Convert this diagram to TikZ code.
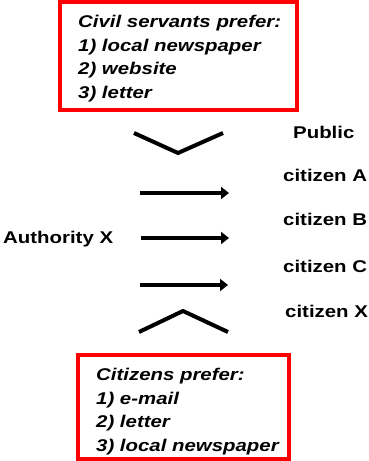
\documentclass[tikz,border=0pt]{standalone}
\usepackage{fontspec}
\setmainfont{Liberation Sans}[FakeStretch=1.2]
\usetikzlibrary{arrows.meta}
\tikzset{
  redbox/.style={draw=red, line width=4pt},
  boxtext/.style={font=\fontsize{17}{23.5}\selectfont\bfseries\itshape, align=left, inner sep=0pt, anchor=base west},
  lbl/.style={font=\fontsize{17}{20}\selectfont\bfseries, inner sep=0pt, anchor=base west},
  flow/.style={line width=4pt, -{Triangle[length=8pt,width=12pt]}},
  chev/.style={line width=4pt, miter limit=10},
}
\begin{document}
\begin{tikzpicture}[x=1pt,y=-1pt]
\useasboundingbox (0,0) rectangle (369,461);
% boxes
\node[redbox, minimum width=237pt, minimum height=108pt, inner sep=0pt] (topbox) at (178.5,56) {};
\node[redbox, minimum width=211pt, minimum height=104pt, inner sep=0pt] (botbox) at (183.5,407) {};
\node[boxtext] (toptext) at (78,98) {Civil servants prefer:\\1) local newspaper\\2) website\\3) letter};
\node[boxtext] (bottext) at (96,451) {Citizens prefer:\\1) e-mail\\2) letter\\3) local newspaper};
% labels
\node[lbl] (public) at (293,138) {Public};
\node[lbl] (citA) at (283,181) {citizen A};
\node[lbl] (citB) at (283,225) {citizen B};
\node[lbl] (citC) at (283,272) {citizen C};
\node[lbl] (citX) at (285,317) {citizen X};
\node[lbl] (auth) at (3,243) {Authority X};
% chevrons
\coordinate (t1) at (134,133);
\coordinate (t2) at (178,153);
\coordinate (t3) at (223,133);
\draw[chev] (t1) -- (t2) -- (t3);
\coordinate (b1) at (139,332);
\coordinate (b2) at (183,311);
\coordinate (b3) at (228,332);
\draw[chev] (b1) -- (b2) -- (b3);
% arrows
\coordinate (a1s) at (140,193); \coordinate (a1e) at (229,193);
\coordinate (a2s) at (141,238); \coordinate (a2e) at (229,238);
\coordinate (a3s) at (140,285); \coordinate (a3e) at (228,285);
\draw[flow] (a1s) -- (a1e);
\draw[flow] (a2s) -- (a2e);
\draw[flow] (a3s) -- (a3e);
\end{tikzpicture}
\end{document}
